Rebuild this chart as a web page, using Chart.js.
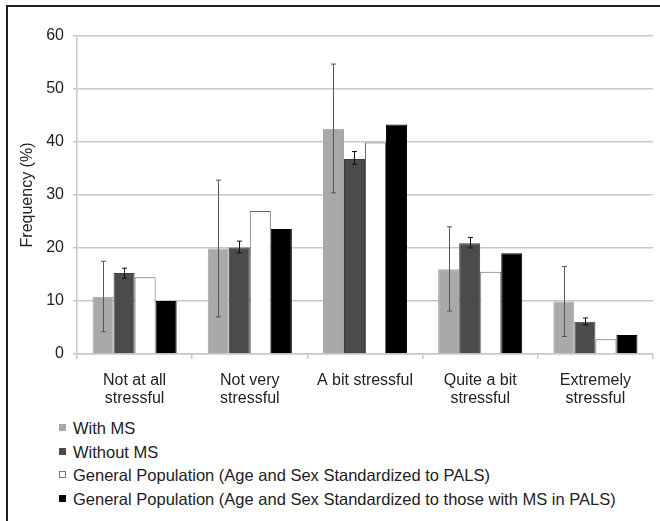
<!DOCTYPE html>
<html>
<head>
<meta charset="utf-8">
<script src="https://cdn.jsdelivr.net/npm/chart.js@4.4.0/dist/chart.umd.min.js"></script>
<style>
    body { margin: 0; background: #fff; font-family: "Liberation Sans", Arial, sans-serif; }
    #page { position: relative; width: 660px; height: 521px; overflow: hidden; }
    #frame { position: absolute; left: 6px; top: 5px; width: 700px; height: 600px; border: 2px solid #1e1e1e; }
    #myChart { position: absolute; left: 0; top: 0; }
    #legend { position: absolute; left: 59px; top: 417px; color: #222; font-size: 16.5px; }
    #legend .item { display: flex; align-items: center; height: 23.5px; line-height: 23.5px; white-space: nowrap; }
    #legend .box { width: 5px; height: 5px; margin-right: 7px; margin-top: -2px; border: 1px solid; }
</style>
</head>
<body>
<div id="page">
    <div id="frame"></div>
    <canvas id="myChart" width="660" height="410"></canvas>
    <div id="legend"></div>
</div>
<script>
var categorias = [['Not at all', 'stressful'], ['Not very', 'stressful'], 'A bit stressful', ['Quite a bit', 'stressful'], ['Extremely', 'stressful']];

var withMS = [10.8, 19.9, 42.5, 16.0, 9.9];
var withMSLow = [4.2, 7.0, 30.4, 8.1, 3.3];
var withMSHigh = [17.5, 32.8, 54.7, 24.0, 16.5];

var withoutMS = [15.3, 20.1, 36.8, 20.9, 6.1];
var withoutMSLow = [14.3, 19.1, 35.8, 20.0, 5.5];
var withoutMSHigh = [16.2, 21.3, 38.2, 22.0, 6.8];

var genPop = [14.5, 27.0, 39.9, 15.5, 2.8];
var genPopMS = [10.0, 23.6, 43.3, 19.0, 3.6];

var yTicks = [0, 10, 20, 30, 40, 50, 60];

var textColor = '#222';
var gridColor = '#c8c8c8';

// error bars drawn on top of the bars, using the y scale
var errorBars = {
    id: 'errorBars',
    afterDatasetsDraw: function(chart) {
        var ctx = chart.ctx;
        var y = chart.scales.y;
        chart.data.datasets.forEach(function(ds, i) {
            if (!ds.errLow) return;
            var meta = chart.getDatasetMeta(i);
            meta.data.forEach(function(bar, j) {
                var top = y.getPixelForValue(ds.errHigh[j]);
                var bot = y.getPixelForValue(ds.errLow[j]);
                var x = Math.round(bar.x) + 0.5;
                ctx.save();
                ctx.strokeStyle = ds.errColor;
                ctx.lineWidth = 1;
                ctx.beginPath();
                ctx.moveTo(x, top);
                ctx.lineTo(x, bot);
                ctx.moveTo(x - 2.5, top);
                ctx.lineTo(x + 2.5, top);
                ctx.moveTo(x - 2.5, bot);
                ctx.lineTo(x + 2.5, bot);
                ctx.stroke();
                ctx.restore();
            });
        });
    }
};

// legend as html, one item per line
var htmlLegend = {
    id: 'htmlLegend',
    afterUpdate: function(chart) {
        var el = document.getElementById('legend');
        el.innerHTML = '';
        chart.data.datasets.forEach(function(ds) {
            var item = document.createElement('div');
            item.className = 'item';
            var box = document.createElement('span');
            box.className = 'box';
            box.style.background = ds.backgroundColor;
            box.style.borderColor = ds.legendBorder;
            var txt = document.createElement('span');
            txt.textContent = ds.label;
            item.appendChild(box);
            item.appendChild(txt);
            el.appendChild(item);
        });
    }
};

var ctx = document.getElementById('myChart');
var myChart = new Chart(ctx, {
    type: 'bar',
    plugins: [errorBars, htmlLegend],
    data: {
        labels: categorias,
        datasets: [{
            label: 'With MS',
            data: withMS,
            errLow: withMSLow,
            errHigh: withMSHigh,
            errColor: '#555',
            backgroundColor: '#a9a9a9',
            borderColor: '#a2a2a2',
            legendBorder: '#a9a9a9',
            borderWidth: 1
        }, {
            label: 'Without MS',
            data: withoutMS,
            errLow: withoutMSLow,
            errHigh: withoutMSHigh,
            errColor: '#111',
            backgroundColor: '#4b4b4b',
            borderColor: '#3a3a3a',
            legendBorder: '#4b4b4b',
            borderWidth: 1
        }, {
            label: 'General Population (Age and Sex Standardized to PALS)',
            data: genPop,
            backgroundColor: '#ffffff',
            borderColor: '#666',
            legendBorder: '#777',
            borderWidth: 1
        }, {
            label: 'General Population (Age and Sex Standardized to those with MS in PALS)',
            data: genPopMS,
            backgroundColor: '#000000',
            borderColor: '#000',
            legendBorder: '#000',
            borderWidth: 1
        }]
    },
    options: {
        responsive: false,
        animation: false,
        layout: {
            padding: { left: 8, right: 7, top: 36, bottom: 0 }
        },
        datasets: {
            bar: { categoryPercentage: 0.73, barPercentage: 1.0 }
        },
        plugins: {
            legend: { display: false },
            tooltip: { enabled: false }
        },
        scales: {
            x: {
                grid: {
                    display: true,
                    drawOnChartArea: false,
                    drawTicks: true,
                    tickLength: 5,
                    color: gridColor,
                    lineWidth: 1.5
                },
                border: { color: gridColor, width: 1.5 },
                ticks: {
                    color: textColor,
                    font: { family: 'Liberation Sans', size: 16, lineHeight: 1.15 },
                    padding: 12,
                    maxRotation: 0,
                    autoSkip: false
                },
                afterFit: function(s) { s.height = 56; }
            },
            y: {
                min: 0,
                max: 60,
                afterBuildTicks: function(s) {
                    s.ticks = yTicks.map(function(v) { return { value: v }; });
                },
                grid: {
                    color: gridColor,
                    lineWidth: 1.5,
                    tickLength: 4
                },
                border: { color: gridColor, width: 1.5 },
                ticks: {
                    color: textColor,
                    font: { family: 'Liberation Sans', size: 16 },
                    padding: 9
                },
                title: {
                    display: true,
                    text: 'Frequency (%)',
                    color: textColor,
                    font: { family: 'Liberation Sans', size: 16 },
                    padding: { top: 10, bottom: 0 }
                },
                afterFit: function(s) { s.width = 69; }
            }
        }
    }
});
</script>
</body>
</html>
